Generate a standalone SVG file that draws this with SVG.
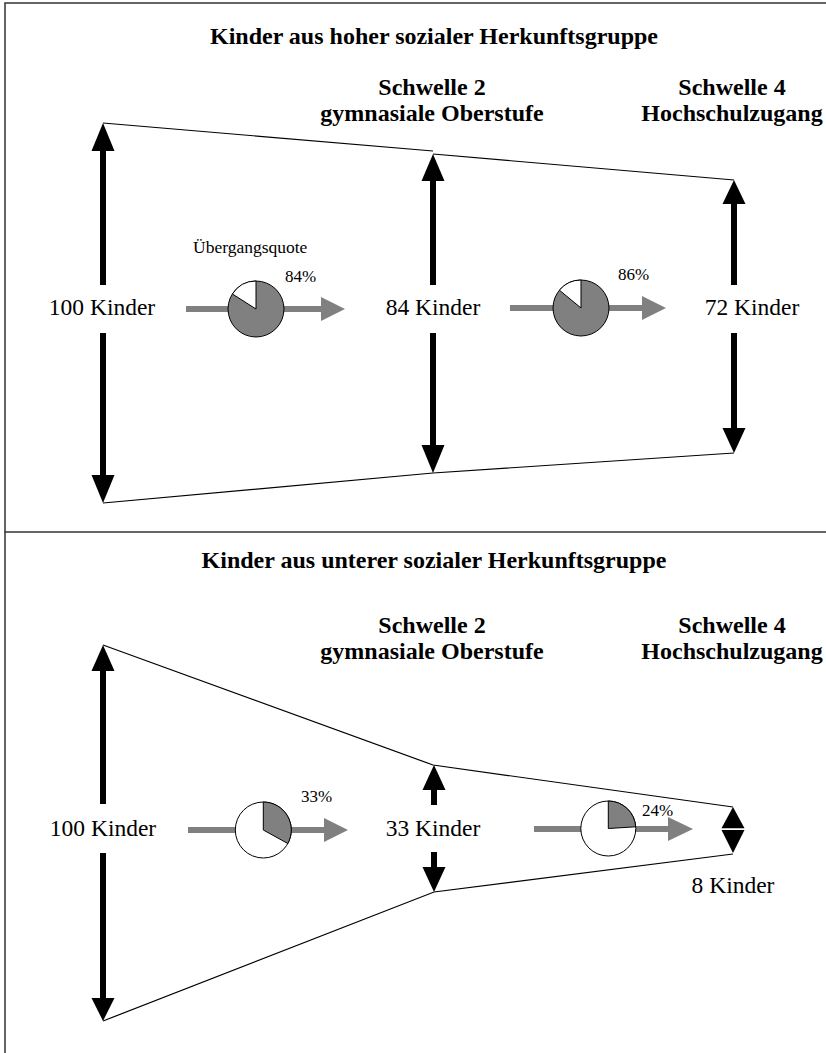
<svg xmlns="http://www.w3.org/2000/svg" width="826" height="1053" viewBox="0 0 826 1053">
<style>
.title{font-family:"Liberation Serif","Times New Roman",serif;font-weight:bold;font-size:24px;fill:#000;text-anchor:middle}
.lbl{font-family:"Liberation Serif","Times New Roman",serif;font-size:23.5px;fill:#000;text-anchor:middle}
.pct{font-family:"Liberation Serif","Times New Roman",serif;font-size:17px;fill:#000}
.frame{fill:none;stroke:#333;stroke-width:1.5}
.edge{fill:none;stroke:#000;stroke-width:1.2}
.shaft{stroke:#000;stroke-width:6}
.head{fill:#000}
.gshaft{stroke:#808080;stroke-width:6}
.ghead{fill:#808080}
.pie{stroke:#000;stroke-width:1}
</style>
<rect class="frame" x="5" y="3" width="822" height="529"/>
<line class="frame" x1="5" y1="532" x2="5" y2="1053"/>

<g id="titles">
<text class="title" x="434" y="44">Kinder aus hoher sozialer Herkunftsgruppe</text>
<text class="title" x="432" y="95">Schwelle 2</text>
<text class="title" x="432" y="121">gymnasiale Oberstufe</text>
<text class="title" x="732" y="95">Schwelle 4</text>
<text class="title" x="732" y="121">Hochschulzugang</text>
<text class="title" x="434" y="568">Kinder aus unterer sozialer Herkunftsgruppe</text>
<text class="title" x="432" y="633">Schwelle 2</text>
<text class="title" x="432" y="659">gymnasiale Oberstufe</text>
<text class="title" x="732" y="633">Schwelle 4</text>
<text class="title" x="732" y="659">Hochschulzugang</text>
</g>

<g id="connectors">
<polyline class="edge" points="103,123 433,151"/>
<polyline class="edge" points="433,154 734,180"/>
<polyline class="edge" points="103,503 433,473 734,453"/>
<polyline class="edge" points="103,645 433,765 733,807"/>
<polyline class="edge" points="103,1021 434,892 733,854"/>
</g>

<g id="h-left">
<line class="shaft" x1="103" y1="148" x2="103" y2="285"/>
<polygon class="head" points="103,123 91.5,151 114.5,151"/>
<text class="lbl" x="102" y="315">100 Kinder</text>
<line class="shaft" x1="103" y1="333" x2="103" y2="478"/>
<polygon class="head" points="103,503 91.5,475 114.5,475"/>
</g>

<g id="h-mid">
<line class="shaft" x1="433" y1="178" x2="433" y2="285"/>
<polygon class="head" points="433,154 421.5,181 444.5,181"/>
<text class="lbl" x="433" y="315">84 Kinder</text>
<line class="shaft" x1="433" y1="333" x2="433" y2="448"/>
<polygon class="head" points="433,473 421.5,445 444.5,445"/>
</g>

<g id="h-right">
<line class="shaft" x1="734" y1="200" x2="734" y2="285"/>
<polygon class="head" points="734,180 722.5,204 745.5,204"/>
<text class="lbl" x="752" y="315">72 Kinder</text>
<line class="shaft" x1="734" y1="333" x2="734" y2="430"/>
<polygon class="head" points="734,453 722.5,428 745.5,428"/>
</g>

<g id="h-rate1">
<text class="pct" x="193" y="253" style="font-size:17.5px">Übergangsquote</text>
<line class="gshaft" x1="186" y1="309" x2="324" y2="309"/>
<polygon class="ghead" points="345,309 321,297 321,321"/>
<circle class="pie" cx="256" cy="309" r="28" fill="#808080"/>
<path class="pie" d="M256,309 L232.4,294 A28,28 0 0,1 256,281 Z" fill="#fff"/>
<text class="pct" x="285" y="282">84%</text>
</g>

<g id="h-rate2">
<line class="gshaft" x1="510" y1="308" x2="644" y2="308"/>
<polygon class="ghead" points="666,308 642,296 642,320"/>
<circle class="pie" cx="581" cy="308" r="28" fill="#808080"/>
<path class="pie" d="M581,308 L559.4,290.2 A28,28 0 0,1 581,280 Z" fill="#fff"/>
<text class="pct" x="618" y="280">86%</text>
</g>

<g id="l-left">
<line class="shaft" x1="103" y1="668" x2="103" y2="804"/>
<polygon class="head" points="103,645 91.5,671 114.5,671"/>
<text class="lbl" x="103" y="836">100 Kinder</text>
<line class="shaft" x1="103" y1="853" x2="103" y2="1000"/>
<polygon class="head" points="103,1021 91.5,998 114.5,998"/>
</g>

<g id="l-mid">
<line class="shaft" x1="434" y1="785" x2="434" y2="805"/>
<polygon class="head" points="434,765 422.5,790 445.5,790"/>
<text class="lbl" x="433" y="836">33 Kinder</text>
<line class="shaft" x1="434" y1="852" x2="434" y2="870"/>
<polygon class="head" points="434,892 422.5,867 445.5,867"/>
</g>

<g id="l-right">
<polygon class="head" points="733,807 721.5,828.3 744.5,828.3"/>
<polygon class="head" points="721.5,830 744.5,830 733,853"/>
<text class="lbl" x="733" y="893">8 Kinder</text>
</g>

<g id="l-rate1">
<line class="gshaft" x1="188" y1="830" x2="326" y2="830"/>
<polygon class="ghead" points="348,830 324,818 324,842"/>
<circle class="pie" cx="263.3" cy="830" r="28" fill="#fff"/>
<path class="pie" d="M263.3,830 L263.3,802 A28,28 0 0,1 287.8,843.5 Z" fill="#808080"/>
<text class="pct" x="301" y="802">33%</text>
</g>

<g id="l-rate2">
<line class="gshaft" x1="534" y1="829" x2="670" y2="829"/>
<polygon class="ghead" points="693,829 668,817 668,841"/>
<circle class="pie" cx="608.3" cy="828.5" r="27.5" fill="#fff"/>
<path class="pie" d="M608.3,828.5 L608.3,801 A27.5,27.5 0 0,1 635.7,826.8 Z" fill="#808080"/>
<text class="pct" x="642" y="816">24%</text>
</g>
</svg>
